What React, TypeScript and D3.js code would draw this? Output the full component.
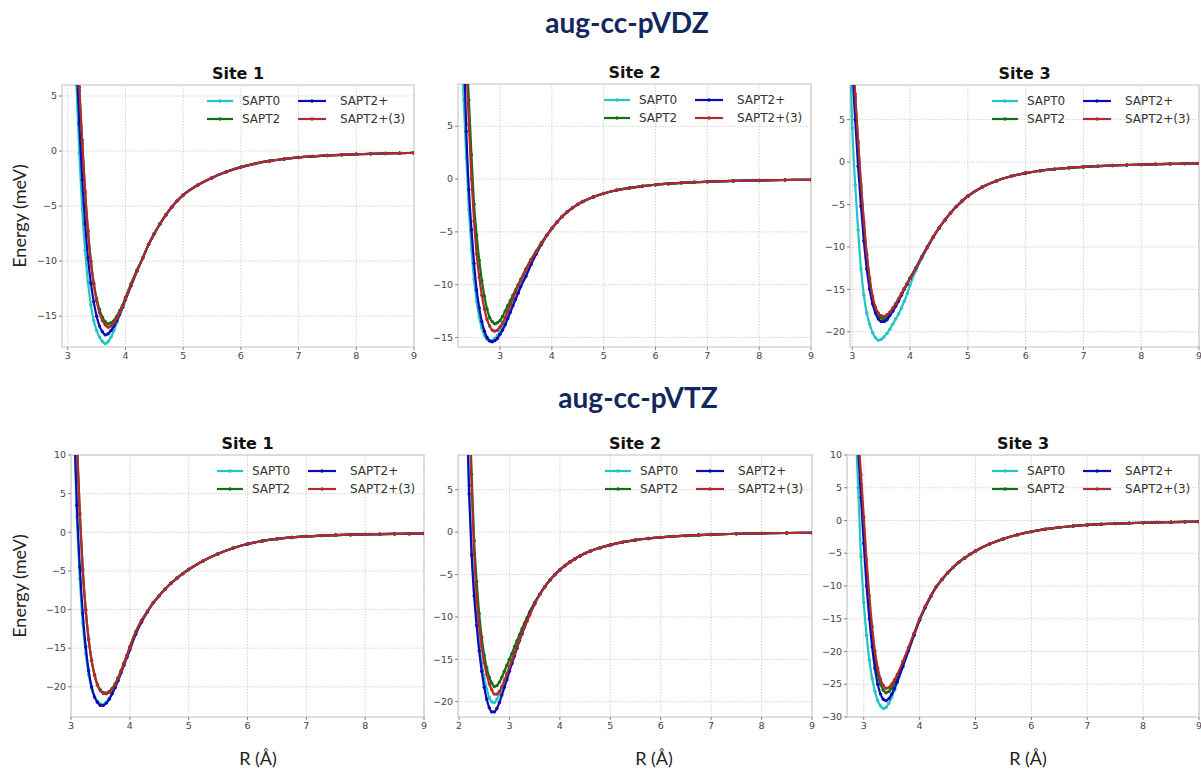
import React, { useEffect, useRef } from 'react';
import * as d3 from 'd3';

// SAPT interaction energies (meV) vs. separation R (Å)
const methods = ['SAPT0', 'SAPT2', 'SAPT2+', 'SAPT2+(3)'];
const methodColors = ['#22c4c4', '#146e14', '#0c0cb4', '#b02c2c'];

// long-range part, where the four methods overlap
const tailR44 = [4.4, 4.5, 4.6, 4.7, 4.8, 4.9, 5.0, 5.25, 5.5, 5.75, 6.0, 6.25, 6.5, 6.75, 7.0, 7.25, 7.5, 7.75, 8.0, 8.25, 8.5, 8.75, 9.0];
const tailR39 = [3.9, 4.0, 4.1, 4.2, 4.3, 4.4, 4.5, 4.6, 4.8, 5.0, 5.25, 5.5, 5.75, 6.0, 6.25, 6.5, 6.75, 7.0, 7.5, 8.0, 8.5, 9.0];
const tailR36 = [3.6, 3.7, 3.8, 3.9, 4.0, 4.1, 4.2, 4.3, 4.4, 4.5, 4.6, 4.8, 5.0, 5.25, 5.5, 5.75, 6.0, 6.25, 6.5, 6.75, 7.0, 7.5, 8.0, 8.5, 9.0];

// aug-cc-pVDZ, site 1
const vdz1R = [3.10, 3.15, 3.20, 3.25, 3.30, 3.35, 3.40, 3.45, 3.50, 3.55, 3.60, 3.65, 3.70, 3.75, 3.80, 3.85, 3.90, 3.95, 4.00, 4.10, 4.20, 4.30];
const vdz1Sapt0 = [14, 6.0, -0.2, -5.3, -9.0, -11.9, -14.0, -15.4, -16.3, -16.9, -17.3, -17.5, -17.3, -16.9, -16.3, -15.6, -14.9, -14.2, -13.5, -12.2, -10.9, -9.7];
const vdz1Sapt2 = [19.5, 11.6, 5.5, 0.7, -3.8, -7.3, -10.0, -12.0, -13.4, -14.4, -15.1, -15.5, -15.7, -15.6, -15.4, -15.0, -14.5, -14.0, -13.3, -12.0, -10.8, -9.7];
const vdz1Sapt2p = [16, 8.5, 2.5, -2.6, -6.6, -9.7, -12.0, -13.7, -15.0, -15.9, -16.4, -16.7, -16.6, -16.3, -15.9, -15.4, -14.8, -14.2, -13.5, -12.2, -10.9, -9.7];
const vdz1Sapt2p3 = [20, 12, 5.8, 1.0, -3.6, -7.2, -10.0, -12.1, -13.6, -14.7, -15.4, -15.8, -16.0, -15.9, -15.6, -15.2, -14.7, -14.1, -13.4, -12.1, -10.9, -9.7];
const vdz1Tail = [-8.5, -7.5, -6.6, -5.8, -5.1, -4.5, -4.0, -3.1, -2.42, -1.88, -1.46, -1.14, -0.9, -0.72, -0.58, -0.48, -0.4, -0.34, -0.29, -0.25, -0.22, -0.19, -0.17];

// aug-cc-pVDZ, site 2
const vdz2R = [2.25, 2.30, 2.35, 2.40, 2.45, 2.50, 2.55, 2.60, 2.65, 2.70, 2.75, 2.80, 2.85, 2.90, 2.95, 3.00, 3.05, 3.10, 3.15, 3.20, 3.25, 3.30, 3.35, 3.40, 3.50, 3.60, 3.70, 3.80];
const vdz2Sapt0 = [15, 7.5, 2.0, -2.9, -6.7, -9.5, -11.6, -13.1, -14.1, -14.8, -15.2, -15.35, -15.3, -15.1, -14.8, -14.4, -14.0, -13.5, -12.9, -12.4, -11.8, -11.2, -10.7, -10.1, -9.1, -8.0, -7.0, -6.1];
const vdz2Sapt2 = [24, 18, 12.5, 7.5, 2.3, -2.4, -5.3, -7.7, -9.6, -11.1, -12.3, -13.1, -13.5, -13.7, -13.6, -13.4, -13.0, -12.5, -12.0, -11.5, -11.0, -10.5, -10.0, -9.5, -8.5, -7.6, -6.8, -6.0];
const vdz2Sapt2p = [22, 13, 4.5, -1.0, -4.8, -8.0, -10.5, -12.2, -13.5, -14.4, -15.0, -15.3, -15.4, -15.3, -15.1, -14.7, -14.3, -13.8, -13.2, -12.6, -12.0, -11.4, -10.8, -10.2, -9.2, -8.1, -7.1, -6.2];
const vdz2Sapt2p3 = [23, 16.5, 11.0, 5.2, 0.0, -4.0, -7.1, -9.3, -11.0, -12.3, -13.3, -13.9, -14.3, -14.4, -14.3, -14.0, -13.6, -13.1, -12.5, -11.9, -11.3, -10.7, -10.1, -9.6, -8.6, -7.7, -6.9, -6.1];
const vdz2Tail = [-5.35, -4.68, -4.08, -3.55, -3.1, -2.72, -2.4, -2.13, -1.7, -1.37, -1.06, -0.84, -0.67, -0.54, -0.44, -0.36, -0.3, -0.25, -0.18, -0.13, -0.09, -0.07];

// aug-cc-pVDZ, site 3
const vdz3R = [2.95, 3.00, 3.05, 3.10, 3.15, 3.20, 3.25, 3.30, 3.35, 3.40, 3.45, 3.50, 3.55, 3.60, 3.65, 3.70, 3.75, 3.80, 3.85, 3.90, 3.95, 4.00, 4.10, 4.20, 4.30];
const vdz3Sapt0 = [15, 4.0, -2.7, -8.0, -12.6, -15.7, -17.8, -19.1, -20.1, -20.7, -21.0, -20.9, -20.6, -20.2, -19.7, -19.1, -18.5, -17.9, -17.2, -16.4, -15.5, -14.5, -12.8, -11.4, -10.1];
const vdz3Sapt2 = [19, 13.5, 7.6, 2.2, -2.9, -7.3, -11.0, -13.9, -16.0, -17.3, -18.0, -18.4, -18.5, -18.3, -17.9, -17.4, -16.8, -16.2, -15.6, -14.9, -14.3, -13.7, -12.5, -11.2, -10.0];
const vdz3Sapt2p = [17, 11, 5.0, -0.5, -5.2, -9.3, -12.6, -15.0, -16.7, -17.8, -18.5, -18.8, -18.8, -18.6, -18.1, -17.6, -17.0, -16.4, -15.7, -15.0, -14.4, -13.7, -12.5, -11.2, -10.0];
const vdz3Sapt2p3 = [20, 14, 8.0, 2.5, -2.6, -7.0, -10.8, -13.7, -15.8, -17.1, -17.8, -18.1, -18.2, -18.0, -17.7, -17.2, -16.7, -16.1, -15.5, -14.9, -14.3, -13.7, -12.5, -11.2, -10.0];
const vdz3Tail = [-8.85, -7.8, -6.85, -6.0, -5.25, -4.6, -4.03, -2.95, -2.2, -1.68, -1.3, -1.03, -0.83, -0.68, -0.57, -0.48, -0.41, -0.35, -0.3, -0.26, -0.22, -0.19, -0.16];

// aug-cc-pVTZ, site 1
const vtz1R = [3.05, 3.10, 3.15, 3.20, 3.25, 3.30, 3.35, 3.40, 3.45, 3.50, 3.55, 3.60, 3.65, 3.70, 3.75, 3.80, 3.85, 3.90, 3.95, 4.00, 4.10, 4.20, 4.30];
const vtz1Sapt0 = [14, 2.0, -6.0, -11.8, -15.7, -18.4, -20.2, -21.3, -21.9, -22.2, -22.3, -22.0, -21.5, -20.8, -20.0, -19.1, -18.1, -17.1, -16.1, -15.1, -13.1, -11.5, -10.3];
const vtz1Sapt2 = [21, 11.8, 2.3, -5.0, -10.1, -13.9, -16.6, -18.4, -19.7, -20.4, -20.75, -20.8, -20.6, -20.2, -19.6, -18.8, -17.9, -16.9, -15.9, -14.8, -12.9, -11.4, -10.2];
const vtz1Sapt2p = [15, 3.5, -4.5, -10.5, -14.8, -17.9, -20.0, -21.3, -22.0, -22.4, -22.4, -22.1, -21.6, -20.9, -20.1, -19.2, -18.2, -17.2, -16.2, -15.2, -13.2, -11.6, -10.3];
const vtz1Sapt2p3 = [21, 12.0, 2.5, -4.8, -10.0, -13.8, -16.6, -18.5, -19.8, -20.5, -20.85, -20.9, -20.7, -20.3, -19.7, -18.9, -18.0, -17.0, -16.0, -14.9, -12.9, -11.4, -10.2];
const vtz1Tail = [-9.1, -8.2, -7.35, -6.6, -5.95, -5.35, -4.82, -3.68, -2.78, -2.06, -1.52, -1.13, -0.86, -0.67, -0.53, -0.43, -0.36, -0.31, -0.27, -0.24, -0.21, -0.18, -0.16];

// aug-cc-pVTZ, site 2
const vtz2R = [2.15, 2.20, 2.25, 2.30, 2.35, 2.40, 2.45, 2.50, 2.55, 2.60, 2.65, 2.70, 2.75, 2.80, 2.85, 2.90, 2.95, 3.00, 3.05, 3.10, 3.15, 3.20, 3.25, 3.30, 3.35, 3.40, 3.50];
const vtz2Sapt0 = [16, 5.5, -1.8, -6.8, -10.4, -13.2, -15.4, -17.2, -18.5, -19.5, -20.0, -20.1, -19.7, -19.1, -18.4, -17.6, -16.8, -15.9, -15.1, -14.3, -13.4, -12.6, -11.8, -11.0, -10.3, -9.6, -8.4];
const vtz2Sapt2 = [27, 17, 6.8, -1.0, -5.8, -9.6, -12.4, -14.5, -16.0, -17.1, -17.8, -18.2, -18.1, -17.7, -17.1, -16.4, -15.7, -15.0, -14.3, -13.5, -12.8, -12.1, -11.4, -10.7, -10.1, -9.4, -8.3];
const vtz2Sapt2p = [15, 4.5, -2.7, -7.5, -11.0, -14.0, -16.4, -18.3, -19.7, -20.7, -21.2, -21.2, -20.8, -20.1, -19.2, -18.3, -17.4, -16.4, -15.5, -14.6, -13.7, -12.8, -12.0, -11.2, -10.4, -9.7, -8.4];
const vtz2Sapt2p3 = [26, 15.5, 5.5, -2.5, -7.6, -11.0, -13.5, -15.4, -16.8, -17.9, -18.6, -19.1, -19.1, -18.8, -18.2, -17.5, -16.7, -15.9, -15.1, -14.3, -13.5, -12.7, -11.9, -11.2, -10.5, -9.8, -8.5];
const vtz2Tail = [-7.35, -6.45, -5.68, -5.02, -4.45, -3.95, -3.52, -3.13, -2.8, -2.5, -2.24, -1.83, -1.5, -1.17, -0.93, -0.75, -0.61, -0.5, -0.41, -0.34, -0.28, -0.2, -0.14, -0.1, -0.07];

// aug-cc-pVTZ, site 3
const vtz3R = [2.85, 2.90, 2.95, 3.00, 3.05, 3.10, 3.15, 3.20, 3.25, 3.30, 3.35, 3.40, 3.45, 3.50, 3.55, 3.60, 3.70, 3.80, 3.90, 4.00, 4.10, 4.20, 4.30];
const vtz3Sapt0 = [15, 5.0, -5.5, -12.5, -17.5, -21.3, -24.1, -26.1, -27.5, -28.3, -28.7, -28.5, -27.9, -27.0, -25.9, -24.7, -22.3, -19.9, -17.5, -15.2, -13.3, -11.6, -10.1];
const vtz3Sapt2 = [20, 12.5, 5.5, -1.5, -8.0, -13.2, -17.6, -21.0, -23.4, -25.0, -25.9, -26.3, -26.1, -25.6, -24.8, -23.9, -21.8, -19.6, -17.3, -15.1, -13.2, -11.5, -10.1];
const vtz3Sapt2p = [19, 11, 3.5, -3.5, -10.0, -15.0, -19.3, -22.6, -25.0, -26.5, -27.3, -27.5, -27.2, -26.5, -25.6, -24.6, -22.3, -19.9, -17.5, -15.2, -13.3, -11.6, -10.1];
const vtz3Sapt2p3 = [21, 13.5, 7.0, 0.5, -6.0, -11.5, -16.2, -19.9, -22.5, -24.2, -25.2, -25.6, -25.5, -25.0, -24.3, -23.5, -21.5, -19.4, -17.2, -15.0, -13.1, -11.5, -10.1];
const vtz3Tail = [-9.0, -8.0, -7.15, -6.4, -5.75, -5.17, -4.65, -3.6, -2.8, -2.18, -1.7, -1.33, -1.05, -0.84, -0.68, -0.56, -0.47, -0.4, -0.34, -0.29, -0.25, -0.21, -0.18];

const basisTitles = ['aug-cc-pVDZ', 'aug-cc-pVTZ'];
const siteTitles = ['Site 1', 'Site 2', 'Site 3'];

const panels = [
  { row: 0, site: 0, box: [62, 85, 414, 347], x: [2.9, 9], y: [-17.8, 6], xTicks: [3, 4, 5, 6, 7, 8, 9], yTicks: [5, 0, -5, -10, -15],
    r: vdz1R, vals: [vdz1Sapt0, vdz1Sapt2, vdz1Sapt2p, vdz1Sapt2p3], tailR: tailR44, tail: vdz1Tail },
  { row: 0, site: 1, box: [458, 84, 811, 347], x: [2.19, 9], y: [-15.9, 9], xTicks: [3, 4, 5, 6, 7, 8, 9], yTicks: [5, 0, -5, -10, -15],
    r: vdz2R, vals: [vdz2Sapt0, vdz2Sapt2, vdz2Sapt2p, vdz2Sapt2p3], tailR: tailR39, tail: vdz2Tail },
  { row: 0, site: 2, box: [850, 85, 1199, 347], x: [2.96, 9], y: [-21.8, 9.08], xTicks: [3, 4, 5, 6, 7, 8, 9], yTicks: [5, 0, -5, -10, -15, -20],
    r: vdz3R, vals: [vdz3Sapt0, vdz3Sapt2, vdz3Sapt2p, vdz3Sapt2p3], tailR: tailR44, tail: vdz3Tail },
  { row: 1, site: 0, box: [71, 455, 424, 717], x: [3, 9], y: [-23.9, 10], xTicks: [3, 4, 5, 6, 7, 8, 9], yTicks: [10, 5, 0, -5, -10, -15, -20],
    r: vtz1R, vals: [vtz1Sapt0, vtz1Sapt2, vtz1Sapt2p, vtz1Sapt2p3], tailR: tailR44, tail: vtz1Tail },
  { row: 1, site: 1, box: [458, 455, 812, 717], x: [1.98, 9], y: [-21.8, 9.1], xTicks: [2, 3, 4, 5, 6, 7, 8, 9], yTicks: [5, 0, -5, -10, -15, -20],
    r: vtz2R, vals: [vtz2Sapt0, vtz2Sapt2, vtz2Sapt2p, vtz2Sapt2p3], tailR: tailR36, tail: vtz2Tail },
  { row: 1, site: 2, box: [847, 455, 1199, 717], x: [2.7, 9], y: [-30, 10], xTicks: [3, 4, 5, 6, 7, 8, 9], yTicks: [10, 5, 0, -5, -10, -15, -20, -25, -30],
    r: vtz3R, vals: [vtz3Sapt0, vtz3Sapt2, vtz3Sapt2p, vtz3Sapt2p3], tailR: tailR44, tail: vtz3Tail },
];

const fmt = (v: number) => (v < 0 ? '\u2212' + Math.abs(v) : String(v));

export default function App() {
  const ref = useRef<SVGSVGElement>(null);

  useEffect(() => {
    const svg = d3.select(ref.current);
    svg.selectAll('*').remove();

    const tickFont = 'DejaVu Sans, sans-serif';
    const labelFont = 'Lato, "Open Sans", sans-serif';

    // basis set headings
    [[627, 33], [638, 408]].forEach(([cx, by], i) => {
      svg.append('text')
        .attr('x', cx).attr('y', by)
        .attr('text-anchor', 'middle')
        .style('font-family', labelFont)
        .style('font-weight', 700)
        .style('font-size', '28px')
        .attr('fill', '#12285c')
        .text(basisTitles[i]);
    });

    // y axis labels
    [216, 586].forEach(cy => {
      svg.append('text')
        .attr('transform', `translate(26,${cy}) rotate(-90)`)
        .attr('text-anchor', 'middle')
        .style('font-family', labelFont)
        .style('font-size', '18px')
        .attr('fill', '#222')
        .text('Energy (meV)');
    });

    // x axis labels (bottom row only)
    [258, 654, 1028].forEach(cx => {
      svg.append('text')
        .attr('x', cx).attr('y', 765)
        .attr('text-anchor', 'middle')
        .style('font-family', labelFont)
        .style('font-size', '18px')
        .attr('fill', '#222')
        .text('R (\u00c5)');
    });

    panels.forEach((p, pi) => {
      const [x0, y0, x1, y1] = p.box;
      const xs = d3.scaleLinear().domain(p.x).range([x0, x1]);
      const ys = d3.scaleLinear().domain(p.y).range([y1, y0]);
      const g = svg.append('g');

      // grid
      g.selectAll('.gx').data(p.xTicks).enter().append('line')
        .attr('x1', d => xs(d)).attr('x2', d => xs(d))
        .attr('y1', y0).attr('y2', y1)
        .attr('stroke', '#c8c8c8').attr('stroke-width', 0.8)
        .attr('stroke-dasharray', '1.5,1.5');
      g.selectAll('.gy').data(p.yTicks).enter().append('line')
        .attr('x1', x0).attr('x2', x1)
        .attr('y1', d => ys(d)).attr('y2', d => ys(d))
        .attr('stroke', '#c8c8c8').attr('stroke-width', 0.8)
        .attr('stroke-dasharray', '1.5,1.5');

      // frame
      g.append('rect')
        .attr('x', x0).attr('y', y0)
        .attr('width', x1 - x0).attr('height', y1 - y0)
        .attr('fill', 'none').attr('stroke', '#d2d2d2').attr('stroke-width', 1.4);

      // ticks + labels
      p.xTicks.forEach(t => {
        g.append('line').attr('x1', xs(t)).attr('x2', xs(t)).attr('y1', y1).attr('y2', y1 + 3)
          .attr('stroke', '#666').attr('stroke-width', 0.8);
        g.append('text').attr('x', xs(t)).attr('y', y1 + 12)
          .attr('text-anchor', 'middle')
          .style('font-family', tickFont).style('font-size', '9.5px')
          .attr('fill', '#444').text(fmt(t));
      });
      p.yTicks.forEach(t => {
        g.append('line').attr('x1', x0 - 3).attr('x2', x0).attr('y1', ys(t)).attr('y2', ys(t))
          .attr('stroke', '#666').attr('stroke-width', 0.8);
        g.append('text').attr('x', x0 - 5).attr('y', ys(t)).attr('dy', '0.34em')
          .attr('text-anchor', 'end')
          .style('font-family', tickFont).style('font-size', '9.5px')
          .attr('fill', '#444').text(fmt(t));
      });

      // site title
      g.append('text')
        .attr('x', (x0 + x1) / 2).attr('y', y0 - 6)
        .attr('text-anchor', 'middle')
        .style('font-family', tickFont).style('font-weight', 700).style('font-size', '16px')
        .attr('fill', '#111').text(siteTitles[p.site]);

      // curves
      const clipId = `clip-${pi}`;
      svg.append('clipPath').attr('id', clipId)
        .append('rect').attr('x', x0).attr('y', y0).attr('width', x1 - x0).attr('height', y1 - y0);
      const plot = g.append('g').attr('clip-path', `url(#${clipId})`);
      const line = d3.line<{ x: number; y: number }>()
        .x(d => xs(d.x)).y(d => ys(d.y))
        .curve(d3.curveMonotoneX);

      p.vals.forEach((vals, si) => {
        const pts = p.r.map((x, i) => ({ x, y: vals[i] }))
          .concat(p.tailR.map((x, i) => ({ x, y: p.tail[i] })));
        plot.append('path').datum(pts)
          .attr('fill', 'none').attr('stroke', methodColors[si])
          .attr('stroke-width', 2.2).attr('d', line);
        plot.selectAll(`.m${si}`).data(pts).enter().append('circle')
          .attr('cx', d => xs(d.x)).attr('cy', d => ys(d.y))
          .attr('r', 1.7).attr('fill', methodColors[si]);
      });

      // legend
      methods.forEach((m, i) => {
        const col = Math.floor(i / 2);
        const row = i % 2;
        const ly = y0 + 16 + row * 18;
        const lx0 = col === 0 ? x1 - 207 : x1 - 116;
        const lx1 = col === 0 ? x1 - 181 : x1 - 88;
        const tx = col === 0 ? x1 - 172 : x1 - 74;
        g.append('line').attr('x1', lx0).attr('x2', lx1).attr('y1', ly).attr('y2', ly)
          .attr('stroke', methodColors[i]).attr('stroke-width', 2.2);
        g.append('circle').attr('cx', (lx0 + lx1) / 2).attr('cy', ly).attr('r', 1.7)
          .attr('fill', methodColors[i]);
        g.append('text').attr('x', tx).attr('y', ly).attr('dy', '0.35em')
          .style('font-family', tickFont).style('font-size', '12px')
          .attr('fill', '#333').text(m);
      });
    });
  }, []);

  return (
    <svg ref={ref} width={1201} height={770}
      style={{ position: 'absolute', left: 0, top: 0, background: '#fff' }} />
  );
}
